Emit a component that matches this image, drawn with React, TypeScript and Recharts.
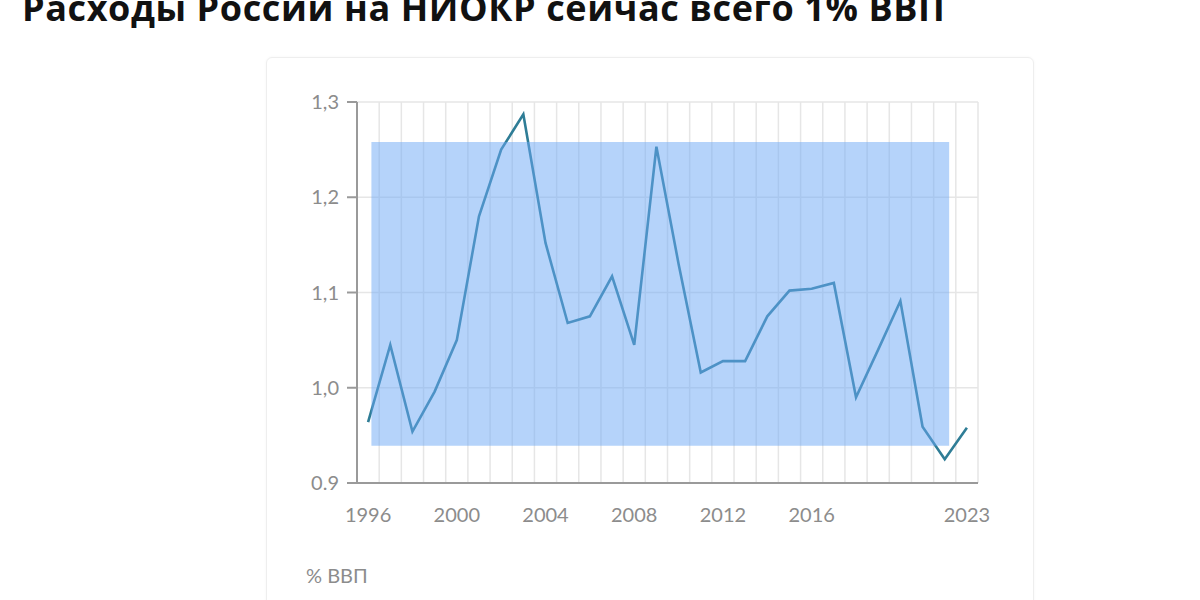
import { LineChart, Line, XAxis, YAxis, CartesianGrid, ReferenceArea } from 'recharts';

const years = [
  1996, 1997, 1998, 1999, 2000, 2001, 2002, 2003, 2004, 2005, 2006, 2007, 2008, 2009,
  2010, 2011, 2012, 2013, 2014, 2015, 2016, 2017, 2018, 2019, 2020, 2021, 2022, 2023,
];
const rdShare = [
  0.964, 1.045, 0.954, 0.996, 1.05, 1.18, 1.25, 1.287, 1.152, 1.068, 1.075, 1.117, 1.045, 1.253,
  1.13, 1.016, 1.028, 1.028, 1.075, 1.102, 1.104, 1.11, 0.99, 1.04, 1.091, 0.959, 0.925, 0.958,
];
const xTicks = [1996, 2000, 2004, 2008, 2012, 2016, 2023];
const yTicks = [0.9, 1.0, 1.1, 1.2, 1.3];
const yTickLabels = ['0.9', '1,0', '1,1', '1,2', '1,3'];
// highlighted band
const band = { x1: 1996.15, x2: 2022.2, y1: 0.939, y2: 1.258 };

const data = years.map((year, i) => ({ year, value: rdShare[i] }));
// grid lines sit between the years
const gridX = years.map((y) => y + 0.5);
const gridTicks = [1995.5, ...gridX];

const tickFont = { fill: '#8c8c8c', fontSize: 20, fontFamily: 'Lato, sans-serif' };

export default function App() {
  return (
    <div
      style={{
        position: 'absolute',
        left: 0,
        top: 0,
        width: 1200,
        height: 600,
        overflow: 'hidden',
        background: '#fff',
      }}
    >
      <div
        style={{
          position: 'absolute',
          left: 22,
          top: -10,
          lineHeight: 1,
          fontSize: 36,
          letterSpacing: 0.6,
          fontWeight: 700,
          fontFamily: '"Open Sans", sans-serif',
          color: '#111',
          whiteSpace: 'nowrap',
        }}
      >
        Расходы России на НИОКР сейчас всего 1% ВВП
      </div>
      <div
        style={{
          position: 'absolute',
          left: 266,
          top: 57,
          width: 766,
          height: 560,
          border: '1px solid #eeeeee',
          borderRadius: 6,
          boxShadow: '0 0 3px rgba(0,0,0,0.04)',
        }}
      />
      <div style={{ position: 'absolute', left: 265, top: 55 }}>
        <LineChart
          width={767}
          height={545}
          data={data}
          margin={{ top: 47, right: 54, left: 0, bottom: 87 }}
        >
          <CartesianGrid
            stroke="#e6e6e6"
            strokeWidth={1.5}
            verticalValues={gridX}
            horizontalValues={yTicks}
          />
          <XAxis
            xAxisId="grid"
            dataKey="year"
            type="number"
            domain={[1995.5, 2023.5]}
            ticks={gridTicks}
            interval={0}
            height={0}
            axisLine={false}
            tick={{ fontSize: 1, fill: 'none' }}
            tickFormatter={() => ''}
            tickLine={{ stroke: '#e2e2e2', strokeWidth: 1.5 }}
            tickSize={12}
          />
          <XAxis
            dataKey="year"
            type="number"
            domain={[1995.5, 2023.5]}
            ticks={xTicks}
            interval={0}
            height={30}
            axisLine={{ stroke: '#9a9a9a', strokeWidth: 2 }}
            tickLine={false}
            tickSize={8}
            tickMargin={17}
            tick={tickFont}
          />
          <YAxis
            type="number"
            domain={[0.9, 1.3]}
            ticks={yTicks}
            interval={0}
            width={92}
            axisLine={{ stroke: '#9a9a9a', strokeWidth: 2 }}
            tickLine={{ stroke: '#9a9a9a', strokeWidth: 2 }}
            tickSize={10}
            tickMargin={8}
            tick={tickFont}
            tickFormatter={(v: number) => yTickLabels[yTicks.indexOf(v)] ?? String(v)}
          />
          <Line
            type="linear"
            dataKey="value"
            stroke="#2f7d96"
            strokeWidth={2.6}
            dot={false}
            isAnimationActive={false}
          />
          <ReferenceArea
            x1={band.x1}
            x2={band.x2}
            y1={band.y1}
            y2={band.y2}
            fill="#6ca8f5"
            fillOpacity={0.5}
            stroke="none"
            zIndex={500}
          />
        </LineChart>
      </div>
      <div
        style={{
          position: 'absolute',
          left: 306,
          top: 563,
          fontSize: 20,
          fontFamily: 'Lato, sans-serif',
          color: '#8c8c8c',
        }}
      >
        % ВВП
      </div>
    </div>
  );
}
